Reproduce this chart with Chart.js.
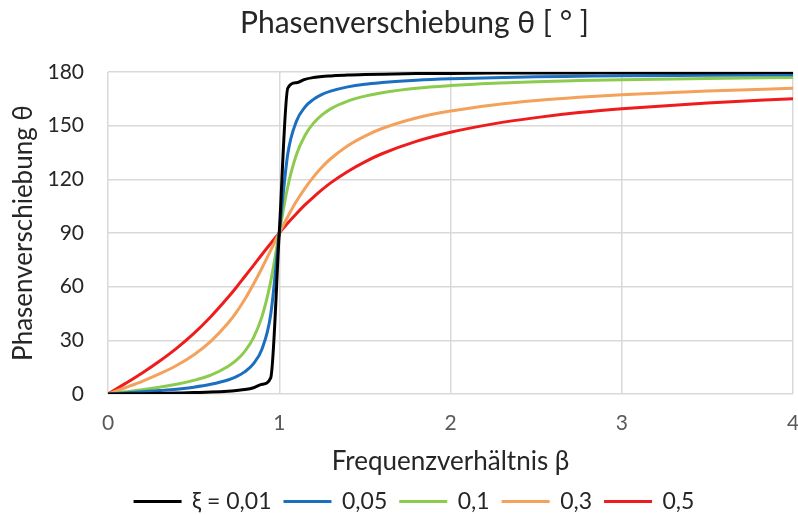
<!DOCTYPE html>
<html>
<head>
<meta charset="utf-8">
<script src="https://cdn.jsdelivr.net/npm/chart.js@4/dist/chart.umd.min.js"></script>
<style>
  html, body { margin: 0; padding: 0; background: #fff; }
  #wrap { width: 798px; height: 515px; }
</style>
</head>
<body>
<div id="wrap"><canvas id="phaseChart" width="798" height="515"></canvas></div>
<script>
// ========== DATA ==========
const beta = [0, 0.1, 0.2, 0.3, 0.4, 0.5, 0.6, 0.7, 0.75, 0.8, 0.85, 0.9, 0.95, 1,
              1.05, 1.1, 1.15, 1.2, 1.25, 1.3, 1.4, 1.5, 1.6, 1.8, 2, 2.25, 2.5, 2.75, 3, 3.5, 4];

const theta001 = [0, 0.1, 0.2, 0.4, 0.5, 0.8, 1.1, 1.6, 2.0, 2.5, 3.5, 5.4, 9, 90,
                  171, 174.0, 175.9, 176.9, 177.5, 177.8, 178.3, 178.6, 178.8, 179.1, 179.2, 179.4, 179.5, 179.5, 179.6, 179.6, 179.7];
const theta005 = [0, 0.6, 1.2, 1.9, 2.7, 3.8, 5.4, 7.8, 9.7, 12.5, 17.0, 25.3, 44.3, 90,
                  134.3, 152.4, 160.4, 164.7, 167.5, 169.3, 171.7, 173.2, 174.1, 175.4, 176.2, 176.8, 177.3, 177.6, 177.9, 178.2, 178.5];
const theta01 = [0, 1.2, 2.4, 3.8, 5.4, 7.6, 10.6, 15.4, 18.9, 24.0, 31.5, 43.5, 62.8, 90,
                 116.0, 133.7, 144.5, 151.4, 156.0, 159.4, 163.7, 166.5, 168.4, 170.9, 172.4, 173.7, 174.6, 175.2, 175.7, 176.4, 176.9];
const theta03 = [0, 3.5, 7.1, 11.2, 15.9, 21.8, 29.4, 39.5, 45.8, 53.1, 61.5, 70.6, 80.3, 90,
                 99.2, 107.7, 115.0, 121.4, 126.9, 131.5, 138.8, 144.2, 148.4, 154.3, 158.2, 161.6, 164.1, 165.9, 167.3, 169.4, 170.9];
const theta05 = [0, 5.8, 11.8, 18.3, 25.5, 33.7, 43.2, 53.9, 59.7, 65.8, 71.9, 78.1, 84.1, 90,
                 95.6, 100.8, 105.7, 110.1, 114.2, 118.0, 124.4, 129.8, 134.3, 141.2, 146.3, 151.0, 154.5, 157.3, 159.4, 162.7, 165.1];

const seriesLabels = ["ξ = 0,01", "0,05", "0,1", "0,3", "0,5"];
const seriesColors = ["#000000", "#1A6FC0", "#8DCB4E", "#F4A15B", "#EE1C1C"];
const seriesValues = [theta001, theta005, theta01, theta03, theta05];

const FONT = "Lato, 'Open Sans', sans-serif";

// ========== CHART ==========
function toPoints(values) {
    return beta.map((b, i) => ({ x: b, y: values[i] }));
}

const datasets = seriesValues.map((vals, i) => ({
    label: seriesLabels[i],
    data: toPoints(vals),
    borderColor: seriesColors[i],
    backgroundColor: seriesColors[i],
    borderWidth: 3,
    pointRadius: 0,
    fill: false,
    cubicInterpolationMode: "monotone"
}));

const ctx = document.getElementById("phaseChart").getContext("2d");

new Chart(ctx, {
    type: "line",
    data: { datasets },
    options: {
        responsive: false,
        animation: false,
        // left padding shifts the centred title and legend to the right like in the original
        layout: { padding: { left: 36, right: 5, top: 0, bottom: -8 } },
        scales: {
            x: {
                type: "linear",
                min: 0,
                max: 4,
                ticks: { stepSize: 1, color: "#595959", font: { family: FONT, size: 21 }, padding: 17 },
                grid: { color: "#D9D9D9", lineWidth: 1.5, drawTicks: false },
                border: { display: false },
                title: { display: true, text: "Frequenzverhältnis β", color: "#262626", font: { family: FONT, size: 26 }, padding: { top: 0, bottom: 0 } },
                afterFit: (scale) => {
                    scale.height = 83;
                    scale.paddingLeft = 0;
                    scale.paddingRight = 0;
                }
            },
            y: {
                min: 0,
                max: 180,
                ticks: { stepSize: 30, color: "#262626", font: { family: FONT, size: 21 }, padding: 24 },
                grid: { color: "#D9D9D9", lineWidth: 1.5, drawTicks: false },
                border: { display: false },
                title: { display: true, text: "Phasenverschiebung θ", color: "#262626", font: { family: FONT, size: 26 }, padding: { top: -28, bottom: 0 } },
                afterFit: (scale) => { scale.width = 72; }
            }
        },
        plugins: {
            title: {
                display: true,
                text: "Phasenverschiebung θ [ ° ]",
                color: "#262626",
                font: { family: FONT, size: 30, weight: "normal" },
                padding: { top: 5, bottom: 31 }
            },
            legend: {
                position: "bottom",
                labels: {
                    color: "#262626",
                    font: { family: FONT, size: 23 },
                    boxWidth: 46,
                    boxHeight: 1,
                    padding: 13,
                    generateLabels: (chart) =>
                        Chart.defaults.plugins.legend.labels.generateLabels(chart).map((item) => ({ ...item, lineWidth: 2 }))
                }
            },
            tooltip: { enabled: false }
        }
    }
});
</script>
</body>
</html>
